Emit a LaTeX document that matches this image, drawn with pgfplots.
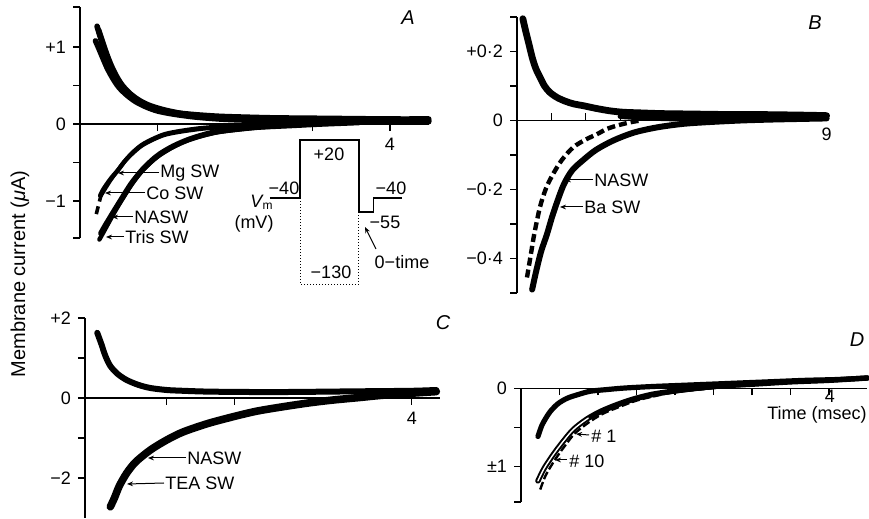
\documentclass[border=0pt]{standalone}
\usepackage{fontspec}
\setmainfont{Liberation Sans}
\usepackage{pgfplots}
\pgfplotsset{compat=1.18}
\usetikzlibrary{arrows.meta}

\pgfplotsset{
  panel/.style={
    anchor=south west, clip=false, enlargelimits=false,
    axis x line=middle, axis y line=left,
    axis line style={-, line width=0.6pt},
    every tick/.style={black, line width=0.6pt},
    major tick length=3.5pt,
    ytick align=outside, xtick align=outside,
    tick label style={font=\fontsize{9}{10}\selectfont},
  },
  trace/.style={black, line width=2.8pt, smooth, no markers, line join=round, line cap=round},
}
\tikzset{
  lab/.style={font=\fontsize{9}{10}\selectfont, inner sep=0.5pt, anchor=west},
  arr/.style={-{Stealth[length=3pt,width=2.4pt]}, line width=0.5pt},
}

\begin{document}
\begin{tikzpicture}
\useasboundingbox (0,0) rectangle (434.5pt,259.5pt);

% ---- A ----
\begin{axis}[panel, at={(40pt,140.5pt)}, x=38.75pt, y=38.5pt,
  xmin=0, xmax=4.5, ymin=-1.48, ymax=1.52,
  xtick={1,2,3,4}, xticklabels={,,,4},
  ytick={-1.48,-1,-0.5,0,0.5,1,1.52}, yticklabels={,−1,,0,,+1,}]
\addplot[trace] coordinates {(0.22,1.27) (0.25,1.17) (0.29,1.04) (0.34,0.89) (0.40,0.72) (0.47,0.58) (0.55,0.47) (0.65,0.37) (0.77,0.29) (0.90,0.23) (1.05,0.18) (1.25,0.145) (1.5,0.12) (1.8,0.10) (2.1,0.09) (2.5,0.08) (3.0,0.075) (3.5,0.07) (4.0,0.065) (4.5,0.065)};
\addplot[trace] coordinates {(0.24,1.22) (0.28,1.10) (0.33,0.95) (0.39,0.79) (0.46,0.64) (0.54,0.51) (0.64,0.40) (0.76,0.31) (0.90,0.24) (1.1,0.18) (1.4,0.12) (1.8,0.08) (2.4,0.06) (3.2,0.05) (4.5,0.045)};
\addplot[trace] coordinates {(0.20,1.08) (0.24,0.99) (0.29,0.87) (0.35,0.73) (0.42,0.60) (0.50,0.48) (0.60,0.38) (0.72,0.29) (0.86,0.22) (1.0,0.17) (1.2,0.13) (1.5,0.09) (1.9,0.06) (2.4,0.045) (3.0,0.035) (3.6,0.03) (4.2,0.025) (4.5,0.03)};
% Mg SW, Co SW
\addplot[trace, line width=2.2pt] coordinates {(0.26,-0.93) (0.30,-0.85) (0.36,-0.76) (0.42,-0.68) (0.49,-0.60) (0.58,-0.48) (0.68,-0.37) (0.80,-0.27) (0.95,-0.19) (1.1,-0.13) (1.3,-0.09) (1.55,-0.055) (1.8,-0.035) (2.1,-0.02) (2.5,-0.01) (3.0,0.0) (3.5,0.02)};
\addplot[trace, line width=2pt] coordinates {(0.27,-0.93) (0.33,-0.83) (0.40,-0.72) (0.48,-0.61) (0.57,-0.49) (0.68,-0.38) (0.80,-0.28) (0.95,-0.2) (1.1,-0.14) (1.3,-0.1) (1.6,-0.06) (2.0,-0.03) (2.5,-0.01) (3.0,0.01)};
\addplot[trace, line width=1.8pt, dash pattern=on 4pt off 2.5pt, line cap=butt] coordinates {(0.21,-1.17) (0.24,-1.05) (0.27,-0.93)};
% NASW, Tris SW
\addplot[trace] coordinates {(0.27,-1.42) (0.32,-1.33) (0.38,-1.23) (0.44,-1.13) (0.52,-1.0) (0.60,-0.87) (0.68,-0.75) (0.80,-0.60) (0.92,-0.48) (1.03,-0.39) (1.2,-0.29) (1.38,-0.21) (1.56,-0.15) (1.76,-0.10) (2.0,-0.07) (2.3,-0.04) (2.7,-0.02) (3.1,0.0) (3.6,0.02)};
\addplot[trace, line width=2.2pt] coordinates {(0.25,-1.5) (0.30,-1.41) (0.36,-1.3) (0.42,-1.19) (0.50,-1.05) (0.58,-0.92) (0.67,-0.78) (0.78,-0.63) (0.90,-0.51) (1.02,-0.41) (1.18,-0.31) (1.36,-0.22) (1.55,-0.16) (1.76,-0.11) (2.0,-0.075) (2.3,-0.045) (2.7,-0.02) (3.1,0.0) (3.6,0.02)};
% voltage protocol
\addplot[black, line width=0.6pt, sharp plot] coordinates {(2.45,-0.961) (2.84,-0.961) (2.84,-0.208) (3.60,-0.208) (3.60,-1.143) (3.79,-1.143) (3.79,-0.961) (4.155,-0.961)};
\addplot[black, line width=0.5pt, densely dotted, sharp plot] coordinates {(2.84,-0.961) (2.84,-2.078) (3.60,-2.078) (3.60,-1.143)};
\end{axis}

% ---- B ----
\begin{axis}[panel, at={(258.5pt,113pt)}, x=17.2pt, y=172.5pt,
  xmin=0, xmax=9, ymin=-0.5, ymax=0.3,
  xtick={1,2,3,4,5,6,7,8,9}, xticklabels={,,,,,,,,9}, xtick align=inside,
  ytick={-0.5,-0.4,-0.3,-0.2,-0.1,0,0.1,0.2,0.3}, yticklabels={,−0·4,,−0·2,,0,,+0·2,}]
\addplot[trace, line width=3.4pt] coordinates {(0.17,0.295) (0.25,0.26) (0.35,0.22) (0.45,0.18) (0.55,0.15) (0.67,0.125) (0.8,0.10) (0.95,0.082) (1.16,0.067) (1.4,0.056) (1.65,0.048) (1.92,0.043) (2.3,0.035) (2.7,0.028) (3.08,0.024) (3.6,0.022) (4.2,0.02) (4.9,0.019) (5.6,0.018) (6.4,0.017) (7.2,0.017) (8.0,0.016) (8.6,0.015) (9,0.014)};
\addplot[trace, line width=2.6pt] coordinates {(3.0,0.012) (3.6,0.008) (4.2,0.006) (5.0,0.004) (5.8,0.004) (6.6,0.005) (7.4,0.006) (8.2,0.006) (9,0.007)};
% NASW
\addplot[trace, line width=2.2pt, dash pattern=on 4pt off 2pt, line cap=butt] coordinates {(0.29,-0.455) (0.4,-0.39) (0.5,-0.33) (0.67,-0.25) (0.85,-0.195) (1.05,-0.155) (1.3,-0.115) (1.63,-0.078) (2.0,-0.055) (2.32,-0.04) (2.6,-0.025) (2.9,-0.015) (3.3,-0.005) (3.6,0.0)};
% Ba SW
\addplot[trace, line width=3pt] coordinates {(0.44,-0.49) (0.55,-0.44) (0.7,-0.38) (0.87,-0.33) (1.05,-0.27) (1.34,-0.19) (1.6,-0.145) (1.92,-0.115) (2.3,-0.085) (2.8,-0.058) (3.4,-0.035) (4.07,-0.02) (4.8,-0.01) (5.5,-0.005) (6.5,0.0) (7.5,0.003) (9,0.006)};
\end{axis}

% ---- C ----
\begin{axis}[panel, at={(42.5pt,0.5pt)}, x=40.85pt, y=20pt,
  xmin=0, xmax=4.35, ymin=-3, ymax=2,
  xtick={1,1.83,4}, xticklabels={,,4},
  ytick={-2,-1,0,1,2}, yticklabels={−2,,0,,+2}]
\addplot[trace, line width=3pt] coordinates {(0.15,1.63) (0.2,1.35) (0.25,1.05) (0.31,0.80) (0.4,0.6) (0.51,0.45) (0.65,0.33) (0.8,0.25) (1.0,0.2) (1.2,0.18) (1.5,0.16) (2,0.15) (2.5,0.15) (3,0.16) (3.5,0.17) (4,0.18) (4.3,0.2)};
\addplot[trace, line width=3.8pt] coordinates {(0.31,-2.72) (0.36,-2.5) (0.42,-2.2) (0.51,-1.88) (0.62,-1.6) (0.8,-1.3) (1.0,-1.05) (1.2,-0.85) (1.5,-0.64) (1.81,-0.47) (2.1,-0.33) (2.42,-0.22) (2.75,-0.12) (3.04,-0.05) (3.35,0.01) (3.65,0.07) (4.0,0.12) (4.3,0.16)};
\end{axis}

% ---- D ----
\begin{axis}[panel, at={(260.5pt,8.5pt)}, x=38.5pt, y=39pt,
  xmin=0, xmax=4.5, ymin=-1.46, ymax=0,
  xtick={0.5,1,1.5,2,2.5,3,3.5,4}, xticklabels={},
  ytick={-1.46,-1,-0.5,0}, yticklabels={,±1,,0}]
\addplot[trace, line width=2.6pt] coordinates {(0.22,-0.62) (0.27,-0.48) (0.32,-0.39) (0.38,-0.3) (0.48,-0.2) (0.6,-0.13) (0.75,-0.08) (0.9,-0.04) (1.1,-0.02) (1.33,0.0) (1.7,0.02) (2.2,0.04) (2.7,0.06) (3.2,0.08) (3.7,0.1) (4.1,0.11) (4.5,0.13)};
\addplot[trace, line width=1pt, double=white, double distance=0.7pt] coordinates {(0.22,-1.19) (0.3,-1.03) (0.42,-0.85) (0.55,-0.68) (0.68,-0.53) (0.85,-0.4) (1.03,-0.3) (1.25,-0.21) (1.46,-0.14) (1.7,-0.08) (1.97,-0.04) (2.3,0.0) (2.62,0.03) (3.0,0.05) (3.5,0.08) (4,0.1) (4.5,0.13)};
\addplot[trace, line width=1.2pt, dash pattern=on 4pt off 1.5pt, line cap=butt] coordinates {(0.25,-1.3) (0.32,-1.12) (0.44,-0.92) (0.57,-0.74) (0.7,-0.58) (0.88,-0.44) (1.06,-0.33) (1.28,-0.24) (1.5,-0.16) (1.75,-0.1) (2.0,-0.05) (2.4,-0.01) (2.8,0.03) (3.3,0.06) (3.8,0.09) (4.5,0.14)};
\addplot[trace, line width=2.2pt] coordinates {(0.9,-0.37) (1.03,-0.31) (1.25,-0.22) (1.46,-0.15) (1.7,-0.09) (1.97,-0.045) (2.3,-0.005) (2.62,0.025) (3.0,0.05) (3.5,0.08) (4,0.1) (4.5,0.13)};
\end{axis}

% ---- annotations (pixel frame of the reference) ----
\begin{scope}[yshift=259.5pt, x=0.5pt, y=-0.5pt]
\node[font=\fontsize{10}{11}\selectfont, rotate=90] at (20,274) {Membrane current ({\itshape μ}A)};
\node[font=\fontsize{10}{11}\selectfont\itshape] at (408,18) {A};
\node[font=\fontsize{10}{11}\selectfont\itshape] at (815,23) {B};
\node[font=\fontsize{10}{11}\selectfont\itshape] at (443,323) {C};
\node[font=\fontsize{10}{11}\selectfont\itshape] at (857,340) {D};
% A labels
\draw[arr] (159,173) -- (118,173); \node[lab] at (159,173) {Mg SW};
\draw[arr] (145,193) -- (105,193); \node[lab] at (145,193) {Co SW};
\draw[arr] (133,217) -- (112,217); \node[lab] at (133,217) {NASW};
\draw[arr] (124,237) -- (106,237); \node[lab] at (124,237) {Tris SW};
% protocol labels
\node[lab, anchor=center] at (329,154) {+20};
\node[lab, anchor=center] at (284,188) {−40};
\node[lab, anchor=center] at (262,202) {\itshape V\textsubscript{\upshape m}};
\node[lab, anchor=center] at (254,224) {(mV)};
\node[lab, anchor=center] at (391,188) {−40};
\node[lab, anchor=center] at (385,222) {−55};
\node[lab, anchor=center] at (331,272) {−130};
\node[lab, anchor=center] at (402,262) {0−time};
\draw[arr] (376,249) -- (365,227);
% B labels
\draw[arr] (593,180) -- (565,180); \node[lab] at (593,180) {NASW};
\draw[arr] (583,207) -- (560,207); \node[lab] at (583,207) {Ba SW};
% C labels
\draw[arr] (186,458) -- (148,458); \node[lab] at (186,458) {NASW};
\draw[arr] (164,483) -- (127,484); \node[lab] at (164,483) {TEA SW};
% D labels
\draw[arr] (589,435) -- (576,434); \node[lab] at (590,436) {\# 1};
\draw[arr] (567,460) -- (555,460); \node[lab] at (568,461) {\# 10};
\node[lab, anchor=center] at (830,396) {4};
\node[lab, anchor=center] at (817,415) {Time (msec)};
\end{scope}
\end{tikzpicture}
\end{document}
